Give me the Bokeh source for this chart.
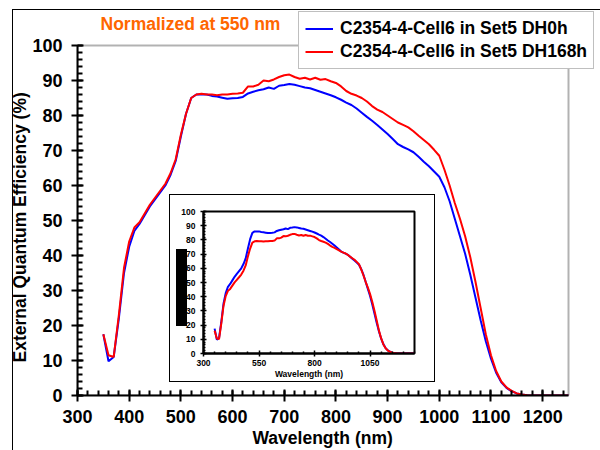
from bokeh.plotting import figure
from bokeh.models import (Range1d, SingleIntervalTicker, FixedTicker, Legend,
                          LegendItem, Label, BoxAnnotation, Div, Title)
from bokeh.layouts import column
from bokeh.embed import file_html
from bokeh.resources import INLINE

# ---------------- data ----------------
wavelength = [350, 360, 370, 380, 390, 400, 410, 420, 430, 440, 450, 460, 470, 480, 490,
              500, 510, 520, 530, 540, 550, 560, 570, 580, 590, 600, 610, 620, 630, 640,
              650, 660, 670, 680, 690, 700, 710, 720, 730, 740, 750, 760, 770, 780, 790,
              800, 810, 820, 830, 840, 850, 860, 870, 880, 890, 900, 910, 920, 930, 940,
              950, 960, 970, 980, 990, 1000, 1010, 1020, 1030, 1040, 1050, 1060, 1070, 1080,
              1090, 1100, 1110, 1120, 1130, 1140, 1150, 1160, 1170, 1180, 1190, 1200, 1250]

# normalized at 550 nm (main chart)
eqe_dh0 = [17.5, 9.8, 11.0, 22.0, 35.0, 42.5, 47.0, 49.0, 51.5, 54.0, 56.0, 58.0, 60.0, 63.0, 67.0,
           74.0, 80.5, 85.0, 86.0, 86.0, 86.0, 85.6, 85.4, 85.1, 84.8, 84.9, 85.0, 85.3, 86.3, 86.8,
           87.2, 87.5, 88.0, 87.6, 88.5, 88.7, 89.0, 88.8, 88.4, 88.0, 87.8, 87.3, 86.8, 86.3, 85.8,
           85.2, 84.5, 83.7, 83.0, 82.0, 80.8, 79.6, 78.5, 77.3, 76.0, 74.7, 73.3, 71.8, 71.0, 70.3,
           69.5, 68.2, 66.8, 65.5, 64.0, 62.5, 59.5, 55.5, 50.5, 45.5, 40.5, 34.5, 28.0, 21.5,
           15.5, 10.5, 6.5, 3.8, 2.2, 1.2, 0.6, 0.3, 0.1, 0.0, 0.0, 0.0, 0.0]

eqe_dh168 = [17.5, 11.5, 11.0, 23.0, 36.5, 44.0, 48.0, 49.5, 52.0, 54.5, 56.5, 58.5, 60.5, 63.5, 67.5,
             74.5, 80.5, 85.0, 86.0, 86.2, 86.0, 86.0, 85.8, 86.0, 86.0, 86.2, 86.3, 86.5, 88.3, 88.3,
             88.8, 90.0, 89.8, 90.3, 91.0, 91.5, 91.7, 91.0, 90.5, 90.8, 90.3, 90.8, 90.2, 90.4, 89.8,
             89.3, 88.3, 87.0, 86.2, 85.7, 85.0, 84.0, 82.7, 81.7, 81.0, 80.0, 79.0, 78.0, 77.3, 76.6,
             75.5, 74.2, 73.0, 71.8, 70.2, 68.5, 64.5, 60.0, 55.0, 50.5, 45.5, 39.5, 32.5, 25.0,
             17.5, 11.5, 7.0, 4.0, 2.3, 1.3, 0.6, 0.3, 0.1, 0.0, 0.0, 0.0, 0.0]

# inset (as measured)
inset_dh0 = [17.5, 9.8, 11.0, 22.0, 35.0, 42.5, 47.0, 49.0, 51.5, 54.0, 56.0, 58.0, 60.0, 63.0, 67.0,
             74.0, 80.5, 85.0, 86.0, 86.0, 86.0, 85.6, 85.4, 85.1, 84.8, 84.9, 85.0, 85.3, 86.3, 86.8,
             87.2, 87.5, 88.0, 87.6, 88.5, 88.7, 89.0, 88.8, 88.4, 88.0, 87.8, 87.3, 86.8, 86.3, 85.8,
             85.2, 84.5, 83.7, 83.0, 82.0, 80.8, 79.6, 78.5, 77.3, 76.0, 74.7, 73.3, 71.8, 71.0, 70.3,
             69.5, 68.2, 66.8, 65.5, 64.0, 62.5, 59.5, 55.5, 50.5, 45.5, 40.5, 34.5, 28.0, 21.5,
             15.5, 10.5, 6.5, 3.8, 2.2, 1.2, 0.6, 0.3, 0.1, 0.0, 0.0, 0.0, 0.0]

inset_dh168 = [16.1, 10.6, 10.1, 21.1, 33.5, 40.4, 44.1, 45.5, 47.8, 50.1, 51.9, 53.7, 55.6, 58.3, 62.0,
               68.4, 73.9, 78.1, 79.0, 79.2, 79.0, 79.0, 78.8, 79.0, 79.0, 79.2, 79.3, 79.5, 81.1, 81.1,
               81.6, 82.7, 82.5, 82.9, 83.6, 84.1, 84.2, 83.6, 83.1, 83.4, 82.9, 83.4, 82.9, 83.0, 82.5,
               82.0, 81.1, 79.9, 79.2, 78.7, 78.1, 77.2, 76.0, 75.1, 74.4, 73.5, 72.6, 71.7, 71.0, 70.4,
               69.4, 68.2, 67.1, 66.0, 64.5, 62.9, 59.2, 55.1, 50.5, 46.4, 41.8, 36.3, 29.9, 23.0,
               16.1, 10.6, 6.4, 3.7, 2.1, 1.2, 0.6, 0.3, 0.1, 0.0, 0.0, 0.0, 0.0]

series_labels = ["C2354-4-Cell6 in Set5 DH0h", "C2354-4-Cell6 in Set5 DH168h"]
title_text = "Normalized at 550 nm"
x_title = "Wavelength (nm)"
y_title = "External Quantum Efficiency (%)"
x_axis_limits = (300, 1250)
y_axis_limits = (0, 100)
inset_xticks = [300, 550, 800, 1050]
inset_xminor = [350, 400, 450, 500, 600, 650, 700, 750, 850, 900, 950, 1000, 1100, 1150, 1200, 1250]

FONT = "Liberation Sans"
BLUE = "#0000FF"
RED = "#FF0000"

# ---------------- main figure ----------------
# the frame covers the canvas top/right so the legend and note are not clipped;
# the axes are bounded to the real data window.
W, H = 600, 450
FL, FB = 77, 55                    # left / bottom borders (px)
AXW, AXH = 491, 350                # pixel size of the data window
x_end = x_axis_limits[1] + (W - FL - AXW) * (x_axis_limits[1] - x_axis_limits[0]) / AXW
y_end = y_axis_limits[1] + (H - FB - AXH) * (y_axis_limits[1] - y_axis_limits[0]) / AXH

p = figure(width=W, height=H, output_backend="svg", toolbar_location=None,
           x_range=Range1d(x_axis_limits[0], x_end), y_range=Range1d(y_axis_limits[0], y_end),
           min_border_left=FL, min_border_right=0, min_border_top=0, min_border_bottom=FB)
p.frame_align = False
p.background_fill_color = "white"
p.border_fill_color = "white"
p.outline_line_color = None
p.xgrid.visible = False
p.ygrid.visible = False

p.xaxis.ticker = SingleIntervalTicker(interval=100, num_minor_ticks=5)
p.yaxis.ticker = SingleIntervalTicker(interval=10, num_minor_ticks=5)
p.xaxis.bounds = x_axis_limits
p.yaxis.bounds = y_axis_limits
for ax in (p.xaxis, p.yaxis):
    ax.axis_line_color = "black"
    ax.axis_line_width = 2
    ax.major_tick_line_width = 2
    ax.minor_tick_line_width = 2
    ax.major_tick_out = 6
    ax.major_tick_in = 6
    ax.minor_tick_in = 5
    ax.minor_tick_out = 0
    ax.major_label_text_font = FONT
    ax.major_label_text_font_style = "bold"
    ax.major_label_text_font_size = "18px"
    ax.major_label_text_color = "black"
p.xaxis.major_label_standoff = 8
p.yaxis.major_label_standoff = 9

# axis titles, placed along the bounded axes (not the whole frame)
p.add_layout(Title(text=y_title, align="left", offset=33, standoff=0,
                   text_font=FONT, text_font_style="bold", text_font_size="17.5px",
                   text_color="black"), "left")
p.add_layout(Title(text=x_title, align="left", offset=175, standoff=0,
                   text_font=FONT, text_font_style="bold", text_font_size="17.5px",
                   text_color="black"), "below")

# plot-area frame (top and right edges)
p.add_layout(BoxAnnotation(left=x_axis_limits[0], right=x_axis_limits[1],
                           bottom=y_axis_limits[0], top=y_axis_limits[1],
                           fill_alpha=0, line_color="black", line_width=2))

r0 = p.line(wavelength, eqe_dh0, line_color=BLUE, line_width=2)
r1 = p.line(wavelength, eqe_dh168, line_color=RED, line_width=2)

legend = Legend(items=[LegendItem(label=series_labels[0], renderers=[r0]),
                       LegendItem(label=series_labels[1], renderers=[r1])],
                location=(221, 326))
legend.label_text_font = FONT
legend.label_text_font_style = "bold"
legend.label_text_font_size = "17.5px"
legend.label_text_color = "black"
legend.label_height = 19
legend.glyph_height = 19
legend.glyph_width = 28
legend.label_standoff = 7
legend.spacing = 2
legend.padding = 6
legend.margin = 0
legend.border_line_color = "#808080"
legend.border_line_width = 1.5
legend.background_fill_color = "white"
legend.background_fill_alpha = 1
p.add_layout(legend)

p.add_layout(Label(x=23, y=372, x_units="screen", y_units="screen", text=title_text,
                   text_font=FONT, text_font_style="bold", text_font_size="17.5px",
                   text_color="#FF6600", text_baseline="middle"))

# ---------------- inset figure ----------------
q = figure(width=264, height=186, output_backend="svg", toolbar_location=None,
           x_range=Range1d(*x_axis_limits), y_range=Range1d(*y_axis_limits),
           min_border_left=33, min_border_right=20, min_border_top=16, min_border_bottom=27)
q.frame_align = False
q.outline_line_color = "black"
q.outline_line_width = 2
q.xgrid.visible = False
q.ygrid.visible = False
q.xaxis.ticker = FixedTicker(ticks=inset_xticks, minor_ticks=inset_xminor)
q.yaxis.ticker = SingleIntervalTicker(interval=10, num_minor_ticks=5)
q.xaxis.axis_label = x_title
for ax in (q.xaxis, q.yaxis):
    ax.axis_line_color = "black"
    ax.axis_line_width = 2
    ax.major_tick_line_width = 1.5
    ax.minor_tick_line_width = 1.5
    ax.major_tick_out = 3
    ax.major_tick_in = 3
    ax.minor_tick_in = 2
    ax.minor_tick_out = 0
    ax.major_label_text_font = FONT
    ax.major_label_text_font_style = "bold"
    ax.major_label_text_font_size = "8.5px"
    ax.major_label_text_color = "black"
    ax.axis_label_text_font = FONT
    ax.axis_label_text_font_style = "bold"
    ax.axis_label_text_font_size = "8.5px"
    ax.axis_label_text_color = "black"
q.xaxis.major_label_standoff = 3
q.xaxis.axis_label_standoff = 0
q.yaxis.major_label_standoff = 5

q.line(wavelength, inset_dh0, line_color=BLUE, line_width=2)
q.line(wavelength, inset_dh168, line_color=RED, line_width=2)

q.styles = {"position": "absolute", "left": "170px", "top": "195px",
            "outline": "1.5px solid black", "z-index": "5"}

# black block at the inset's left edge (as in the reference)
block = Div(text="", width=11, height=77,
            styles={"position": "absolute", "left": "171px", "top": "244px",
                    "background-color": "black", "z-index": "6"})

# outer chart-area border (left and top edges)
border = Div(text="", width=593, height=446,
             styles={"position": "absolute", "left": "7px", "top": "4px",
                     "box-sizing": "border-box",
                     "border-left": "1.5px solid black", "border-top": "1.5px solid black",
                     "pointer-events": "none", "z-index": "7"})

layout = column(p, q, block, border, styles={"position": "relative"})

with open("out.html", "w") as f:
    f.write(file_html(layout, INLINE))
